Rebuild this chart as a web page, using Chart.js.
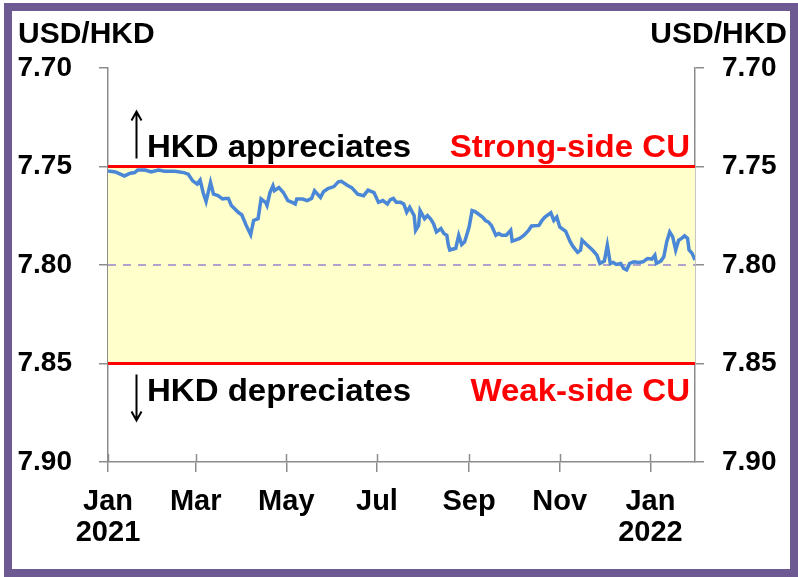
<!DOCTYPE html>
<html>
<head>
<meta charset="utf-8">
<script src="https://cdn.jsdelivr.net/npm/chart.js@4.4.1/dist/chart.umd.min.js"></script>
<style>
  html, body { margin: 0; padding: 0; background: #fff; overflow: hidden; }
  #wrap { position: relative; width: 798px; height: 577px; }
  #frame { position: absolute; left: 4px; top: 3px; width: 794px; height: 574px;
           box-sizing: border-box; border: 8px solid #6e5a93; pointer-events: none; }
</style>
</head>
<body>
<div id="wrap">
  <canvas id="chart" width="798" height="577"></canvas>
  <div id="frame"></div>
</div>
<script>
'use strict';

// USD/HKD spot rate
var rateDates = [
  '2021-01-01','2021-01-06','2021-01-12','2021-01-16','2021-01-19','2021-01-21','2021-01-26','2021-01-30',
  '2021-02-04','2021-02-08','2021-02-15','2021-02-21','2021-02-24','2021-02-27',
  '2021-03-02','2021-03-04','2021-03-06','2021-03-08','2021-03-11','2021-03-13','2021-03-16','2021-03-19',
  '2021-03-21','2021-03-23','2021-03-25','2021-03-30',
  '2021-04-01','2021-04-04','2021-04-07','2021-04-09','2021-04-12','2021-04-14','2021-04-17','2021-04-18',
  '2021-04-20','2021-04-22','2021-04-23','2021-04-26','2021-04-29',
  '2021-05-02','2021-05-05','2021-05-07','2021-05-08','2021-05-12','2021-05-15','2021-05-18','2021-05-20',
  '2021-05-24','2021-05-26','2021-05-29',
  '2021-06-02','2021-06-05','2021-06-07','2021-06-11','2021-06-14','2021-06-18','2021-06-22','2021-06-25','2021-06-29',
  '2021-07-02','2021-07-05','2021-07-08','2021-07-10','2021-07-12','2021-07-14','2021-07-17','2021-07-19',
  '2021-07-21','2021-07-23','2021-07-26','2021-07-27','2021-07-29','2021-07-30',
  '2021-08-02','2021-08-04','2021-08-06','2021-08-08','2021-08-10','2021-08-13','2021-08-15','2021-08-17',
  '2021-08-18','2021-08-19','2021-08-23','2021-08-25','2021-08-27','2021-08-29',
  '2021-09-01','2021-09-03','2021-09-05','2021-09-07','2021-09-10','2021-09-12','2021-09-14','2021-09-16',
  '2021-09-19','2021-09-21','2021-09-23','2021-09-26','2021-09-29','2021-09-30',
  '2021-10-02','2021-10-05','2021-10-08','2021-10-11','2021-10-13','2021-10-18','2021-10-20','2021-10-22',
  '2021-10-26','2021-10-28','2021-10-30',
  '2021-11-01','2021-11-05','2021-11-08','2021-11-10','2021-11-13','2021-11-15','2021-11-16','2021-11-19',
  '2021-11-23','2021-11-26','2021-11-28',
  '2021-12-01','2021-12-03','2021-12-05','2021-12-07','2021-12-09','2021-12-12','2021-12-14','2021-12-16',
  '2021-12-18','2021-12-21','2021-12-24','2021-12-27','2021-12-30',
  '2022-01-02','2022-01-04','2022-01-05','2022-01-08','2022-01-10','2022-01-12','2022-01-14','2022-01-16',
  '2022-01-18','2022-01-20','2022-01-22','2022-01-24','2022-01-26','2022-01-27','2022-01-29','2022-01-31'
];
var rateValues = [
  7.7523, 7.7528, 7.7548, 7.7534, 7.7531, 7.7518, 7.7518, 7.7528,
  7.7518, 7.7524, 7.7524, 7.7531, 7.7539, 7.7573,
  7.7589, 7.7569, 7.7632, 7.7678, 7.7581, 7.7640, 7.7648, 7.7665,
  7.7662, 7.7662, 7.7698, 7.7735,
  7.7745, 7.7799, 7.7846, 7.7774, 7.7765, 7.7665, 7.7682, 7.7698,
  7.7632, 7.7598, 7.7623, 7.7607, 7.7632,
  7.7673, 7.7682, 7.7690, 7.7665, 7.7665, 7.7673, 7.7662, 7.7623,
  7.7657, 7.7628, 7.7612,
  7.7602, 7.7578, 7.7575, 7.7595, 7.7607, 7.7640, 7.7648, 7.7620, 7.7632,
  7.7682, 7.7673, 7.7690, 7.7668, 7.7662, 7.7682, 7.7682, 7.7690,
  7.7732, 7.7707, 7.7749, 7.7824, 7.7799, 7.7724,
  7.7765, 7.7749, 7.7765, 7.7790, 7.7832, 7.7815, 7.7840, 7.7849,
  7.7899, 7.7924, 7.7915, 7.7849, 7.7896, 7.7882,
  7.7807, 7.7724, 7.7729, 7.7740, 7.7757, 7.7774, 7.7782, 7.7799,
  7.7849, 7.7840, 7.7849, 7.7849, 7.7824, 7.7879,
  7.7874, 7.7865, 7.7849, 7.7824, 7.7802, 7.7799, 7.7774, 7.7757,
  7.7735, 7.7774, 7.7757,
  7.7807, 7.7829, 7.7882, 7.7907, 7.7936, 7.7924, 7.7874, 7.7896,
  7.7924, 7.7950, 7.7992,
  7.7980, 7.7899, 7.7992, 7.7987, 7.7997, 7.7992, 7.8017, 7.8025,
  7.7992, 7.7984, 7.7987, 7.7984, 7.7967,
  7.7970, 7.7950, 7.7992, 7.7980, 7.7958, 7.7882, 7.7832, 7.7857,
  7.7924, 7.7874, 7.7865, 7.7852, 7.7865, 7.7924, 7.7940, 7.7975
];

var axisStart = '2021-01-01';
var axisEnd = '2022-01-31';
var tickDates = ['2021-01-01','2021-03-01','2021-05-01','2021-07-01','2021-09-01','2021-11-01','2022-01-01'];
var tickLabels = [['Jan','2021'], 'Mar', 'May', 'Jul', 'Sep', 'Nov', ['Jan','2022']];
var yTicks = [7.70, 7.75, 7.80, 7.85, 7.90];
var strongSide = 7.75;
var weakSide = 7.85;
var midRate = 7.80;

var FONT = '"Liberation Sans", Arial, sans-serif';
var AXIS_GREY = '#8c8c8c';

function dayOf(s) {
  var p = s.split('-').map(Number);
  return (Date.UTC(p[0], p[1] - 1, p[2]) - Date.UTC(2021, 0, 1)) / 864e5;
}
var xMin = dayOf(axisStart), xMax = dayOf(axisEnd);
var tickDays = tickDates.map(dayOf);

function flat(v) {
  return [{x: xMin, y: v}, {x: xMax, y: v}];
}

var series = rateDates.map(function(d, i) {
  return {x: dayOf(d), y: rateValues[i]};
});

// text a bit wider than the font gives, as in the original
function wideText(ctx, txt, x, y, align) {
  ctx.save();
  ctx.translate(x, y);
  ctx.scale(1.065, 1);
  ctx.textAlign = align;
  ctx.fillText(txt, 0, 0);
  ctx.restore();
}

// titles, arrows, band labels and the part of the x ticks above the axis
var extras = {
  id: 'extras',
  afterDatasetsDraw: function(chart) {
    var ctx = chart.ctx, ca = chart.chartArea;
    var ys = chart.scales.y, xs = chart.scales.x;
    var sY = ys.getPixelForValue(strongSide), wY = ys.getPixelForValue(weakSide);
    ctx.save();
    ctx.strokeStyle = AXIS_GREY;
    ctx.lineWidth = 1.5;
    tickDays.forEach(function(d) {
      var px = Math.round(xs.getPixelForValue(d)) + 0.5;
      ctx.beginPath();
      ctx.moveTo(px, ca.bottom - 8);
      ctx.lineTo(px, ca.bottom);
      ctx.stroke();
    });

    ctx.font = 'bold 31px ' + FONT;
    ctx.textBaseline = 'alphabetic';
    ctx.fillStyle = '#000';
    wideText(ctx, 'HKD appreciates', ca.left + 39, sY - 10, 'left');
    wideText(ctx, 'HKD depreciates', ca.left + 39, wY + 37, 'left');
    ctx.fillStyle = '#ff0000';
    wideText(ctx, 'Strong-side CU', ca.right - 5, sY - 10, 'right');
    wideText(ctx, 'Weak-side CU', ca.right - 5, wY + 37, 'right');

    // arrows
    var ax = ca.left + 28.5;
    ctx.strokeStyle = '#000';
    ctx.lineWidth = 2;
    ctx.beginPath();
    ctx.moveTo(ax, sY - 8); ctx.lineTo(ax, sY - 55);
    ctx.moveTo(ax - 5, sY - 46); ctx.lineTo(ax, sY - 55); ctx.lineTo(ax + 5, sY - 46);
    ctx.moveTo(ax, wY + 11); ctx.lineTo(ax, wY + 57);
    ctx.moveTo(ax - 5, wY + 48); ctx.lineTo(ax, wY + 57); ctx.lineTo(ax + 5, wY + 48);
    ctx.stroke();

    ctx.font = 'bold 30px ' + FONT;
    ctx.fillStyle = '#000';
    ctx.textAlign = 'left';
    ctx.fillText('USD/HKD', 18, 43);
    ctx.textAlign = 'right';
    ctx.fillText('USD/HKD', 787, 43);
    ctx.restore();
  }
};

function yAxis(pos, pad, w) {
  return {
    type: 'linear',
    position: pos,
    reverse: true,
    min: yTicks[0],
    max: yTicks[yTicks.length - 1],
    afterBuildTicks: function(scale) {
      scale.ticks = yTicks.map(function(v) { return {value: v}; });
    },
    afterFit: function(scale) { scale.width = w; },
    grid: {drawOnChartArea: false, drawTicks: true, tickLength: 9, color: AXIS_GREY, lineWidth: 1.5},
    border: {display: true, color: AXIS_GREY, width: 1.5},
    ticks: {
      padding: pad,
      color: '#000',
      font: {family: FONT, size: 28, weight: 'bold'},
      callback: function(v) { return Number(v).toFixed(2); }
    }
  };
}

new Chart(document.getElementById('chart'), {
  type: 'line',
  data: {
    datasets: [
      {data: series, borderColor: '#4a87d6', borderWidth: 3.5, pointRadius: 0, tension: 0, fill: false, order: 0},
      {data: flat(midRate), borderColor: '#b0a4cf', borderWidth: 2, borderDash: [8, 7], pointRadius: 0, fill: false, order: 1},
      {data: flat(strongSide), borderColor: '#ff0000', borderWidth: 3, pointRadius: 0, fill: false, order: 2},
      {data: flat(weakSide), borderColor: '#ff0000', borderWidth: 3, pointRadius: 0, fill: '-1',
       backgroundColor: '#ffffcc', order: 2}
    ]
  },
  options: {
    responsive: false,
    animation: false,
    events: [],
    layout: {padding: {top: 68, left: 0, right: 0, bottom: 0}},
    plugins: {legend: {display: false}, tooltip: {enabled: false}, title: {display: false}},
    scales: {
      x: {
        type: 'linear',
        min: xMin,
        max: xMax,
        afterBuildTicks: function(scale) {
          scale.ticks = tickDays.map(function(v) { return {value: v}; });
        },
        afterFit: function(scale) { scale.height = 115; },
        grid: {drawOnChartArea: false, drawTicks: true, tickLength: 10, color: AXIS_GREY, lineWidth: 1.5},
        border: {display: true, color: AXIS_GREY, width: 1.5},
        ticks: {
          padding: 15,
          maxRotation: 0,
          autoSkip: false,
          color: '#000',
          font: {family: FONT, size: 29, weight: 'bold', lineHeight: 1.05},
          callback: function(v) {
            var i = tickDays.indexOf(v);
            return i < 0 ? '' : tickLabels[i];
          }
        }
      },
      y: yAxis('left', 27, 108),
      y2: yAxis('right', 18, 103)
    }
  },
  plugins: [extras]
});
</script>
</body>
</html>
